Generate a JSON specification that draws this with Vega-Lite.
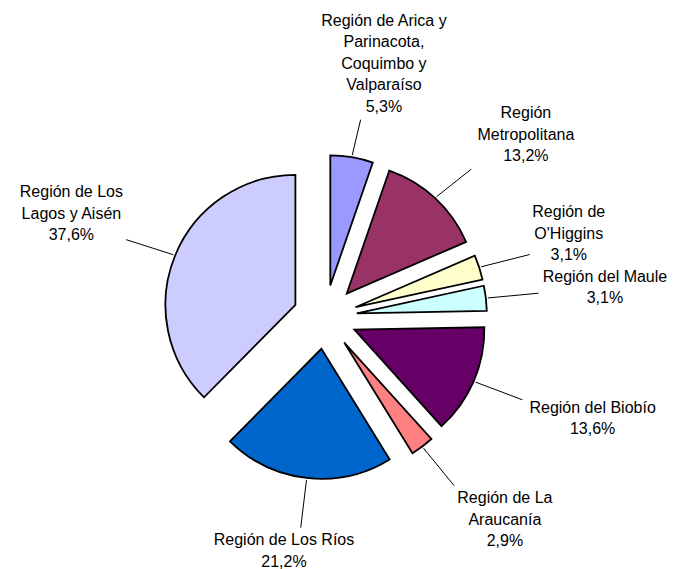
{
  "$schema": "https://vega.github.io/schema/vega-lite/v6.json",
  "width": 650,
  "height": 504,
  "autosize": {"type": "none"},
  "padding": {"left": 0, "top": 65, "right": 33, "bottom": 0},
  "background": "white",
  "config": {"view": {"stroke": null}, "text": {"font": "Liberation Sans"}},
  "data": {
    "values": [
      {"orden": 1, "region": "Región de Arica y Parinacota, Coquimbo y Valparaíso", "pct": 5.3, "label": ["Región de Arica y", "Parinacota,", "Coquimbo y", "Valparaíso", "5,3%"]},
      {"orden": 2, "region": "Región Metropolitana", "pct": 13.2, "label": ["Región", "Metropolitana", "13,2%"]},
      {"orden": 3, "region": "Región de O'Higgins", "pct": 3.1, "label": ["Región de", "O'Higgins", "3,1%"]},
      {"orden": 4, "region": "Región del Maule", "pct": 3.1, "label": ["Región del Maule", "3,1%"]},
      {"orden": 5, "region": "Región del Biobío", "pct": 13.6, "label": ["Región del Biobío", "13,6%"]},
      {"orden": 6, "region": "Región de La Araucanía", "pct": 2.9, "label": ["Región de La", "Araucanía", "2,9%"]},
      {"orden": 7, "region": "Región de Los Ríos", "pct": 21.2, "label": ["Región de Los Ríos", "21,2%"]},
      {"orden": 8, "region": "Región de Los Lagos y Aisén", "pct": 37.6, "label": ["Región de Los", "Lagos y Aisén", "37,6%"]}
    ]
  },
  "transform": [
    {"stack": "pct", "groupby": [], "sort": [{"field": "orden", "order": "ascending"}], "as": ["p0", "p1"]}
  ],
  "layer": [
    {
      "mark": {
        "type": "arc",
        "radius": 130,
        "stroke": "black",
        "strokeWidth": 1.8,
        "strokeJoin": "miter",
        "x": {"expr": "width/2+32*sin((datum.p0+datum.p1)*PI/100)"},
        "y": {"expr": "height/2-32*cos((datum.p0+datum.p1)*PI/100)"}
      },
      "encoding": {
        "theta": {"field": "p0", "type": "quantitative", "scale": {"domain": [0, 100]}, "stack": null},
        "theta2": {"field": "p1"},
        "color": {
          "field": "region",
          "type": "nominal",
          "scale": {
            "domain": ["Región de Arica y Parinacota, Coquimbo y Valparaíso", "Región Metropolitana", "Región de O'Higgins", "Región del Maule", "Región del Biobío", "Región de La Araucanía", "Región de Los Ríos", "Región de Los Lagos y Aisén"],
            "range": ["#9999FF", "#993366", "#FFFFCC", "#CCFFFF", "#660066", "#FF8080", "#0066CC", "#CCCCFF"]
          },
          "legend": null
        }
      }
    },
    {
      "mark": {"type": "rule", "stroke": "black", "strokeWidth": 1},
      "encoding": {
        "x": {"value": {"expr": "width/2+164*sin((datum.p0+datum.p1)*PI/100)"}},
        "y": {"value": {"expr": "height/2-164*cos((datum.p0+datum.p1)*PI/100)"}},
        "x2": {"value": {"expr": "width/2+215*sin((datum.p0+datum.p1)*PI/100)"}},
        "y2": {"value": {"expr": "height/2-(206-6*cos((datum.p0+datum.p1)*PI/100))*cos((datum.p0+datum.p1)*PI/100)"}}
      }
    },
    {
      "mark": {
        "type": "text",
        "fontSize": 16,
        "font": "Liberation Sans",
        "color": "black",
        "align": "center",
        "baseline": "middle",
        "lineHeight": 21.5,
        "x": {"expr": "width/2+215*sin((datum.p0+datum.p1)*PI/100)+clamp(2*sin((datum.p0+datum.p1)*PI/100),-1,1)*(4+3.9*max(length(datum.label[0]),length(datum.label[1]||''),length(datum.label[2]||''),length(datum.label[3]||''),length(datum.label[4]||'')))"},
        "y": {"expr": "height/2-(206-6*cos((datum.p0+datum.p1)*PI/100))*cos((datum.p0+datum.p1)*PI/100)-clamp(2*cos((datum.p0+datum.p1)*PI/100),-1,1)*(2+10.75*length(datum.label))-10.75*(length(datum.label)-1)"}
      },
      "encoding": {
        "text": {"field": "label"}
      }
    }
  ]
}
